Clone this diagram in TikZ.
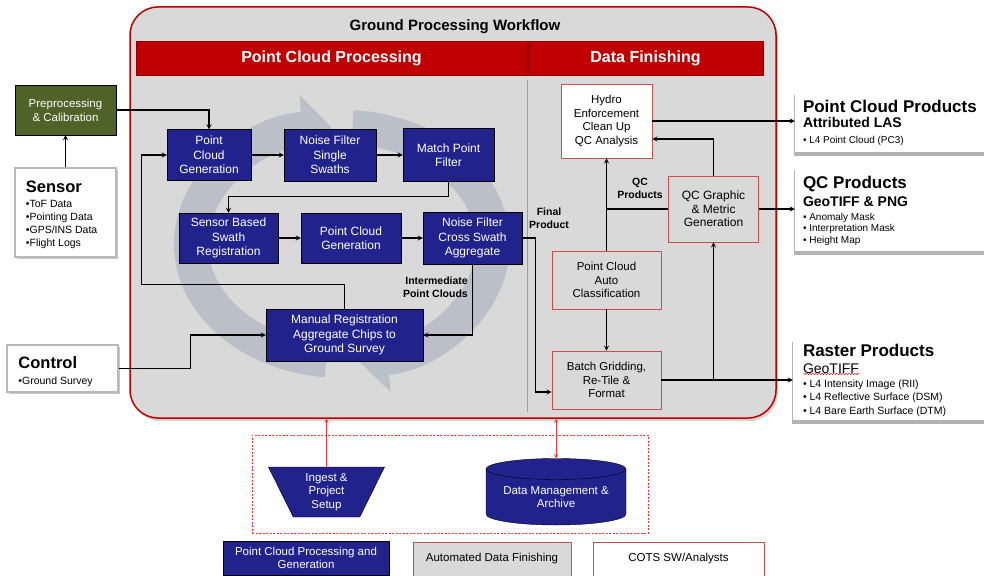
\documentclass[tikz,border=0pt]{standalone}
\usepackage{fontspec}
\setmainfont{Liberation Sans}
\usetikzlibrary{arrows.meta,shapes.geometric,shadows,decorations.pathmorphing}
\definecolor{wfgray}{HTML}{D9D9D9}
\definecolor{hdred}{HTML}{C00000}
\definecolor{dfred}{HTML}{C9504D}
\definecolor{pcblue}{HTML}{22228C}
\definecolor{prepgreen}{HTML}{4F6228}
\definecolor{ringgray}{HTML}{BBC0C8}
\definecolor{lnkred}{HTML}{FF3030}
\begin{document}
\begin{tikzpicture}[x=1pt,y=-1pt,>=stealth,line cap=butt,line join=miter]
	\tikzset{pcbox/.style={draw=black,fill=pcblue,text=white,align=center,inner sep=1pt,font=\fontsize{12}{14.5}\selectfont},
		dfbox/.style={draw=dfred,fill=wfgray,line width=.8pt,align=center,inner sep=1pt,font=\fontsize{11.5}{13.5}\selectfont},
		hdr/.style={fill=hdred,draw=hdred!75!black,line width=.4pt,minimum height=34,text=white,font=\fontsize{16}{19}\selectfont\bfseries},
		inbox/.style={fill=white,draw=gray!55,line width=2.5pt,drop shadow={opacity=.45,shadow xshift=1.5pt,shadow yshift=-2pt}},
		outbox/.style={fill=white,draw=none,drop shadow={opacity=.6,shadow xshift=-1pt,shadow yshift=-3.5pt}},
		boxtxt/.style={anchor=west,align=left,inner sep=0pt},
		lbl/.style={align=center,inner sep=1pt,font=\fontsize{10.5}{13}\selectfont\bfseries},
		conn/.style={->,line width=1.2pt},
		lnk/.style={lnkred,line width=.8pt},
		ring/.style={ringgray,line width=34pt,-{Triangle[length=30pt,width=66pt]}}}
	\def\hd#1{{\fontsize{17}{17}\selectfont\bfseries #1}} % box heading
	\path[use as bounding box] (0,0) rectangle (984,575);
	\clip (0,0) rectangle (984,575);
	%--------- Workflow frame
	\node[draw=hdred,fill=wfgray,line width=1.5pt,rounded corners=28pt,minimum width=646,minimum height=411,
		drop shadow={opacity=.35,shadow xshift=2pt,shadow yshift=-3pt}] (wf) at (453,212.5) {};
	\node[font=\fontsize{15}{18}\selectfont\bfseries] (wftitle) at (455,27) {Ground Processing Workflow};
	\node[hdr,minimum width=391] (pcphdr) at (331.5,58) {Point Cloud Processing};
	\node[hdr,minimum width=235] (dfhdr) at (645.5,58) {Data Finishing};
	\draw[dfred!70,line width=.5pt] (527,80) -- (527,412);
	%--------- Cycle arrows
	\draw[ring] (342,244) ++(96:151 and 117) arc[start angle=96,end angle=266,x radius=151,y radius=117];
	\draw[ring] (342,244) ++(274:151 and 117) arc[start angle=274,end angle=444,x radius=151,y radius=117];
	%--------- Inputs
	\node[draw=black,fill=prepgreen,text=white,align=center,minimum width=101,minimum height=50,inner sep=1pt,
		font=\fontsize{11.5}{14}\selectfont] (prep) at (65.5,110) {Preprocessing\\\& Calibration};
	\node[inbox,minimum width=101,minimum height=89] (sensor) at (65.5,212.5) {};
	\node[boxtxt,font=\fontsize{10.5}{13}\selectfont] (sensortxt) at ([xshift=12pt,yshift=-2.5pt]sensor.west)
		{{\fontsize{16.5}{17}\selectfont\bfseries Sensor}\\[1.5pt]•ToF Data\\•Pointing Data\\•GPS/INS Data\\•Flight Logs};
	\node[inbox,line width=1.5pt,minimum width=111,minimum height=47] (control) at (62.5,368.5) {};
	\node[boxtxt,font=\fontsize{10.5}{13}\selectfont] (controltxt) at ([xshift=12pt,yshift=-3pt]control.west)
		{{\fontsize{16.5}{17}\selectfont\bfseries Control}\\[3pt]•Ground Survey};
	%--------- Point cloud processing
	\node[pcbox,minimum width=84,minimum height=51] (pcga) at (209,155) {Point\\Cloud\\Generation};
	\node[pcbox,minimum width=92,minimum height=52] (nfss) at (330,155) {Noise Filter\\Single\\Swaths};
	\node[pcbox,minimum width=91,minimum height=53] (mpf) at (448.5,155) {Match Point\\Filter};
	\node[pcbox,minimum width=99,minimum height=50] (sbsr) at (228.5,238) {Sensor Based\\Swath\\Registration};
	\node[pcbox,minimum width=100,minimum height=50] (pcgb) at (351,238) {Point Cloud\\Generation};
	\node[pcbox,minimum width=99,minimum height=52] (nfcs) at (472.5,238) {Noise Filter\\Cross Swath\\Aggregate};
	\node[pcbox,minimum width=157,minimum height=52] (mrac) at (344.5,335) {Manual Registration\\Aggregate Chips to\\Ground Survey};
	\node[lbl,anchor=east,align=right] (intpc) at (469,287) {Intermediate\\Point Clouds};
	%--------- Data finishing
	\node[dfbox,fill=white,minimum width=91,minimum height=74] (hydro) at (606.5,121) {Hydro\\Enforcement\\Clean Up\\QC Analysis};
	\node[dfbox,minimum width=90,minimum height=66,font=\fontsize{12}{13.5}\selectfont] (qcg) at (713.5,209) {QC Graphic\\\& Metric\\Generation};
	\node[dfbox,minimum width=109,minimum height=58] (pcac) at (606.5,280) {Point Cloud\\Auto\\Classification};
	\node[dfbox,minimum width=109,minimum height=58] (batch) at (606.5,380) {Batch Gridding,\\Re-Tile \&\\Format};
	\node[lbl] (finprod) at (549,218) {Final\\Product};
	\node[lbl] (qcprod) at (640,188) {QC\\Products};
	%--------- Products
	\node[outbox,minimum width=205,minimum height=60] (pcp) at (897.5,122) {};
	\node[boxtxt,font=\fontsize{10}{13}\selectfont] (pcptxt) at ([xshift=8pt,yshift=-.5pt]pcp.west)
		{\hd{Point Cloud Products}\\[2pt]{\fontsize{14}{14}\selectfont\bfseries Attributed LAS}\\[3pt]• L4 Point Cloud (PC3)};
	\node[outbox,minimum width=205,minimum height=85] (qcp) at (897.5,208.5) {};
	\node[boxtxt,font=\fontsize{10}{11.5}\selectfont] (qcptxt) at ([xshift=8pt,yshift=-2.5pt]qcp.west)
		{\hd{QC Products}\\[3.5pt]{\fontsize{14}{14}\selectfont\bfseries GeoTIFF \& PNG}\\[2.5pt]• Anomaly Mask\\• Interpretation Mask\\• Height Map};
	\node[outbox,minimum width=207,minimum height=82] (rasp) at (896.5,379) {};
	\node[boxtxt,font=\fontsize{10.5}{13.5}\selectfont] (rasptxt) at ([xshift=10pt,yshift=-1pt]rasp.west)
		{\hd{Raster Products}\\[3.5pt]{\fontsize{14}{14}\selectfont GeoTIFF}\\[.5pt]• L4 Intensity Image (RII)\\• L4 Reflective Surface (DSM)\\• L4 Bare Earth Surface (DTM)};
	\draw[red,decorate,decoration={snake,amplitude=.7pt,segment length=3pt}] (803,374) -- (860,374);
	%--------- Connectors
	\draw[conn] (sensor) -- (prep);
	\draw[conn] (prep.east) -| (pcga.north);
	\draw[conn] (pcga) -- (nfss);
	\draw[conn] (nfss) -- (mpf);
	\draw[conn] (mpf.south) -- ++(0,15) -| (sbsr.north);
	\draw[conn] (sbsr) -- (pcgb);
	\draw[conn] (pcgb) -- (nfcs);
	\draw[conn] (nfcs.south) |- (mrac.east);
	\draw[conn] (mrac.north) -- ++(0,-24) -| ([xshift=-25pt]pcga.west) -- (pcga.west);
	\draw[conn] (control.east) -- ++(72,0) |- (mrac.west);
	\draw[conn] (nfcs.east) -- ++(13,0) |- ([yshift=-12pt]batch.west);
	\draw[conn] (pcac) -- (batch);
	\draw[conn] (pcac) -- (hydro);
	\draw[line width=1.2pt] (qcg.west) -- (qcg.west -| hydro.south);
	\draw[conn] (qcg.north) |- ([yshift=-18pt]hydro.east);
	\draw[conn] (hydro.east) -- (hydro.east -| pcp.west);
	\draw[conn] (qcg.east) -- (qcg.east -| qcp.west);
	\draw[conn] (batch.east) -- (batch.east -| rasp.west);
	\draw[conn] (batch.east -| qcg.south) -- (qcg.south);
	%--------- Storage
	\node[draw=lnkred,dashed,dash pattern=on 2pt off 1.5pt,line width=.7pt,minimum width=396,minimum height=98] (store) at (450,484) {};
	\node[trapezium,shape border rotate=180,trapezium angle=67,trapezium stretches=true,draw=black,fill=pcblue,text=white,
		align=center,inner sep=0pt,minimum width=117,minimum height=50,font=\fontsize{11.5}{13.3}\selectfont] (ingest) at (326.5,492)
		{Ingest \&\\Project\\Setup};
	\fill[pcblue,draw=black] (486,469) -- (486,514) arc[start angle=180,end angle=0,x radius=70,y radius=11]
		-- (626,469) arc[start angle=0,end angle=-180,x radius=70,y radius=10.5] -- cycle;
	\draw (486,469) arc[start angle=180,end angle=0,x radius=70,y radius=10.5];
	\node[text=white,align=center,minimum width=140,minimum height=77,inner sep=0pt,font=\fontsize{11.5}{13.5}\selectfont] (dma) at (556,497)
		{Data Management \&\\Archive};
	\draw[lnk,->] (ingest.north) -- (ingest.north |- wf.south);
	\draw[lnk,<->] (dma.north) -- (dma.north |- wf.south);
	%--------- Legend
	\node[pcbox,minimum width=166,minimum height=34,font=\fontsize{11.5}{13.5}\selectfont] (lgpc) at (306,558) {Point Cloud Processing and\\Generation};
	\node[dfbox,minimum width=158,minimum height=34] (lgdf) at (492,559) {Automated Data Finishing};
	\node[dfbox,fill=white,minimum width=171,minimum height=34] (lgcots) at (678.5,559) {COTS SW/Analysts};
\end{tikzpicture}
\end{document}
